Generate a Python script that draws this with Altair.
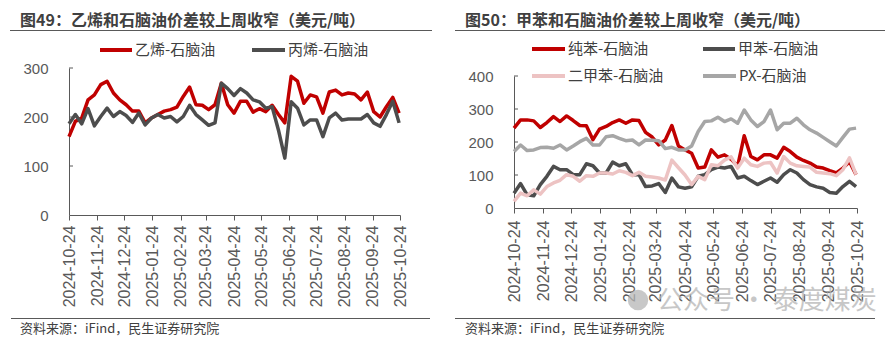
import altair as alt
import pandas as pd

# ---------------- data ----------------
dates = [d.strftime('%Y-%m-%d') for d in pd.date_range('2024-10-24', periods=53, freq='7D')]
tick_dates = ['2024-10-24', '2024-11-24', '2024-12-24', '2025-01-24', '2025-02-24', '2025-03-24',
              '2025-04-24', '2025-05-24', '2025-06-24', '2025-07-24', '2025-08-24', '2025-09-24',
              '2025-10-24']

ethylene = [160, 191, 198, 235, 245, 266, 273, 249, 235, 225, 212, 212, 188, 198, 205, 212, 215, 220,
            242, 261, 225, 224, 215, 225, 269, 225, 208, 232, 232, 210, 217, 211, 224, 205, 188, 283,
            273, 228, 245, 241, 208, 251, 255, 245, 249, 247, 235, 251, 211, 200, 221, 240, 208]
propylene = [186, 205, 186, 217, 182, 201, 218, 201, 211, 203, 189, 208, 184, 198, 205, 198, 201, 190,
             201, 224, 205, 194, 183, 188, 269, 258, 244, 258, 249, 235, 231, 218, 221, 173, 116, 231,
             218, 184, 194, 194, 160, 198, 208, 194, 196, 196, 196, 205, 188, 181, 205, 232, 188]

benzene = [242, 267, 267, 264, 244, 259, 277, 262, 279, 265, 250, 249, 207, 239, 247, 259, 267, 257,
           267, 265, 229, 215, 191, 206, 250, 188, 176, 166, 121, 124, 176, 154, 161, 148, 127, 219,
           156, 146, 161, 161, 151, 184, 171, 154, 144, 136, 124, 121, 113, 106, 121, 140, 101]
toluene = [45, 74, 40, 37, 71, 96, 126, 116, 116, 101, 101, 134, 128, 106, 106, 139, 128, 134, 101, 101,
           65, 67, 74, 47, 91, 64, 60, 64, 96, 101, 116, 124, 121, 126, 91, 96, 83, 71, 81, 91, 78, 101,
           116, 106, 86, 71, 64, 60, 47, 45, 65, 81, 65]
xylene = [20, 45, 37, 55, 42, 65, 76, 84, 101, 96, 81, 98, 96, 106, 106, 103, 113, 108, 98, 108, 96, 94,
          91, 85, 145, 122, 100, 71, 96, 86, 131, 128, 145, 155, 121, 151, 131, 126, 136, 138, 106, 156,
          136, 128, 126, 124, 108, 106, 104, 98, 116, 152, 101]
px = [171, 191, 174, 176, 183, 184, 181, 191, 176, 188, 201, 211, 191, 191, 216, 219, 211, 204, 206, 191,
      206, 205, 204, 180, 184, 176, 176, 188, 232, 262, 264, 275, 262, 270, 257, 297, 267, 247, 262, 297,
      237, 257, 257, 272, 252, 237, 227, 214, 201, 188, 214, 239, 242]

left_names = ['乙烯-石脑油', '丙烯-石脑油']
right_names = ['纯苯-石脑油', '甲苯-石脑油', '二甲苯-石脑油', 'PX-石脑油']
left_colors = ['#C00000', '#4D4D4D']
right_colors = ['#C00000', '#4D4D4D', '#EDC3C3', '#A6A6A6']

title_left = '图49：乙烯和石脑油价差较上周收窄（美元/吨）'
title_right = '图50：甲苯和石脑油价差较上周收窄（美元/吨）'
source = '资料来源：iFind，民生证券研究院'
watermark = '公众号 · 泰度煤炭'

# ---------------- styling ----------------
W, H = 891, 340
CJK = 'Noto Sans CJK SC'
NUM = 'Liberation Sans'
AXC = '#595959'
TXT = '#404040'


def ms(s):
    return int(pd.Timestamp(s).value // 10**6)


xdom = [ms('2024-10-24'), ms('2025-10-24')]


def series_layer(values, color, xr, yr, ydom, yvals, show_axes, y_axis_x, x_axis_y, lab_pad_x):
    df = pd.DataFrame({'date': dates, 'v': values})
    if show_axes:
        xa = alt.Axis(values=[ms(t) for t in tick_dates],
                      labelExpr="utcFormat(datum.value, '%Y-%m-%d')",
                      labelAngle=-90, labelFont=NUM, labelFontSize=16, labelColor=AXC,
                      labelPadding=lab_pad_x, tickSize=5, tickColor=AXC, domainColor=AXC,
                      grid=False, title=None, orient='bottom', offset=-(H - x_axis_y),
                      labelOverlap=False, labelFlush=False)
        ya = alt.Axis(values=yvals, orient='left', offset=-y_axis_x, ticks=False, tickSize=0,
                      labelPadding=21, labelFont=NUM, labelFontSize=15, labelColor=AXC,
                      domainColor=AXC, grid=False, title=None)
    else:
        xa = None
        ya = None
    return alt.Chart(df).mark_line(color=color, strokeWidth=3.5, strokeJoin='round').encode(
        x=alt.X('date:T', scale=alt.Scale(type='utc', domain=xdom, range=xr), axis=xa),
        y=alt.Y('v:Q', scale=alt.Scale(domain=ydom, range=yr), axis=ya),
    )


def inner_ticks(vals, ydom, yr, x0):
    df = pd.DataFrame({'v': vals})
    return alt.Chart(df).mark_rule(color=AXC, strokeWidth=1).encode(
        y=alt.Y('v:Q', scale=alt.Scale(domain=ydom, range=yr), axis=None),
        x=alt.value(x0), x2=alt.value(x0 + 4))


def text(t, x, y, size, color=TXT, weight='normal', font=CJK, opacity=1.0):
    return alt.Chart(pd.DataFrame({'t': [t]})).mark_text(
        align='left', baseline='middle', font=font, fontSize=size, fontWeight=weight,
        color=color, opacity=opacity).encode(text='t:N', x=alt.value(x), y=alt.value(y))


def hline(x0, x1, y, color=AXC, width=1):
    return alt.Chart(pd.DataFrame({'a': [0]})).mark_rule(color=color, strokeWidth=width).encode(
        x=alt.value(x0), x2=alt.value(x1), y=alt.value(y))


layers = []

# left panel
LX = [69, 400]
LY = [215, 68]
LD = [0, 300]
for i, (vals, col) in enumerate(zip([ethylene, propylene], left_colors)):
    layers.append(series_layer(vals, col, LX, LY, LD, [0, 100, 200, 300], i == 0, 69, 215, 5))
layers.append(inner_ticks([100, 200, 300], LD, LY, 69))

# right panel
RX = [514, 857]
RY = [208, 76]
RD = [0, 400]
for i, (vals, col) in enumerate(zip([benzene, toluene, xylene, px], right_colors)):
    layers.append(series_layer(vals, col, RX, RY, RD, [0, 100, 200, 300, 400], i == 0, 514, 208, 7))
layers.append(inner_ticks([100, 200, 300, 400], RD, RY, 514))

# titles and rules
layers += [
    text(title_left, 20, 20.5, 16, weight='bold'),
    text(title_right, 465, 20.5, 16, weight='bold'),
    hline(10, 432, 30.5),
    hline(455, 885, 30.5),
    hline(11, 430, 318.5),
    hline(455, 875, 318.5),
    text(source, 20, 329, 13),
    text(source, 465, 329, 13),
]

# legends
leg = [
    (100, 132, 50, left_colors[0], left_names[0]),
    (252, 285, 50, left_colors[1], left_names[1]),
    (532, 565, 49, right_colors[0], right_names[0]),
    (703, 735, 49, right_colors[1], right_names[1]),
    (532, 565, 76, right_colors[2], right_names[2]),
    (703, 736, 76, right_colors[3], right_names[3]),
]
for x0, x1, y, col, name in leg:
    layers.append(hline(x0, x1, y, color=col, width=4))
    layers.append(text(name, x1 + 3, y, 15))

# watermark
layers.append(alt.Chart(pd.DataFrame({'a': [0]})).mark_circle(color='#b5b5b5', opacity=0.75, size=420).encode(
    x=alt.value(638), y=alt.value(300)))
layers.append(text(watermark, 657, 301, 26, color='#b5b5b5', opacity=0.75))

chart = alt.layer(*layers).resolve_scale(x='independent', y='independent').properties(
    width=W, height=H, autosize=alt.AutoSizeParams(type='none'), padding=0,
    background='white'
).configure_view(stroke=None)

chart.save('out.html', embed_options={'renderer': 'svg', 'actions': False})
